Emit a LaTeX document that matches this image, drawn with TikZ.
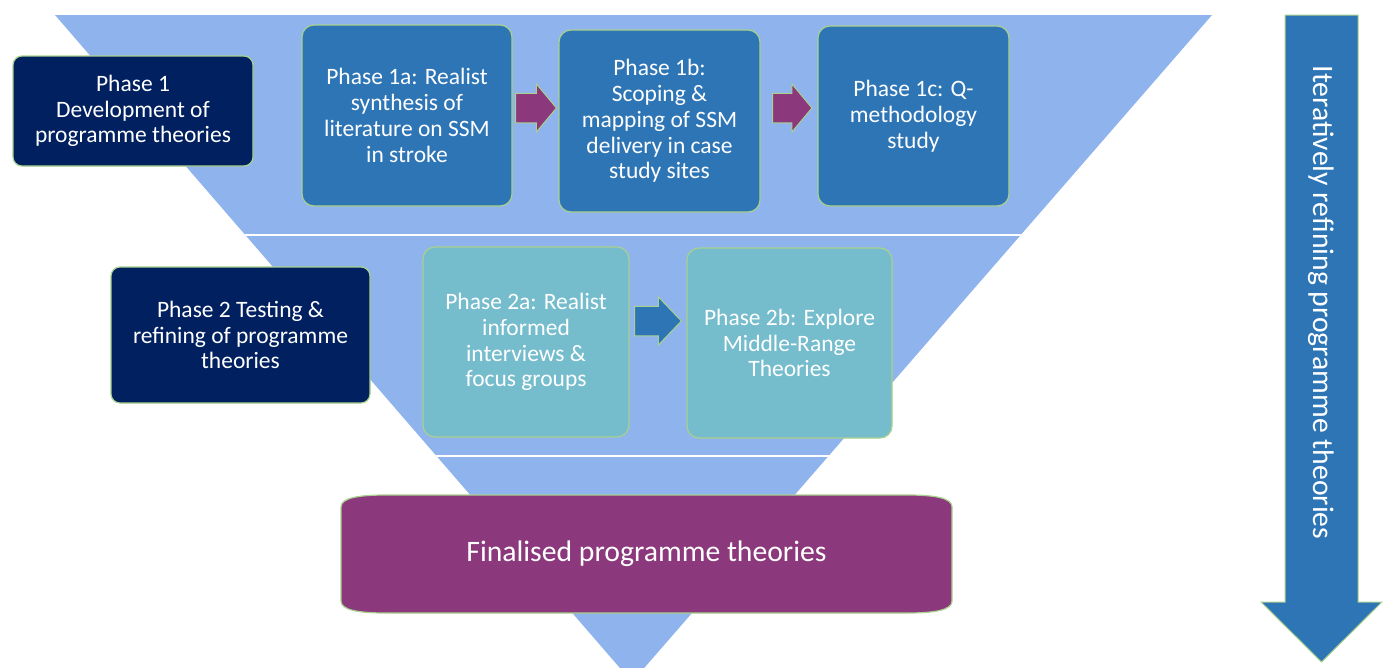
\documentclass[tikz,border=0pt]{standalone}
\usepackage{fontspec}
\setmainfont{Carlito}
\usetikzlibrary{calc}
\definecolor{funnel}{RGB}{143,179,236}
\definecolor{navy}{RGB}{0,32,96}
\definecolor{midblue}{RGB}{46,117,182}
\definecolor{tealbox}{RGB}{117,188,205}
\definecolor{purp}{RGB}{139,56,124}
\definecolor{edge}{RGB}{169,209,142}
\tikzset{
  phasebox/.style={draw=edge, line width=1.2pt, rounded corners=12pt, text=white, align=center, inner sep=0pt, font=\fontsize{23.5}{25.8}\selectfont},
  navybox/.style={phasebox, fill=navy, rounded corners=9pt},
  bluebox/.style={phasebox, fill=midblue},
  tealstyle/.style={phasebox, fill=tealbox},
  bigtext/.style={text=white, inner sep=0pt, font=\fontsize{29.7}{35}\selectfont},
  blockarr/.style={draw=edge, line width=1pt}
}
\newcommand{\barrow}[7]{%
  \filldraw[blockarr, fill=#7]
    ($(#1.east |- #3)+(#4,-14.75)$) --
    ($(#2.west |- #3)+({-#5-#6},-14.75)$) --
    ($(#2.west |- #3)+({-#5-#6},-24)$) --
    ($(#2.west |- #3)+({-#5},0)$) --
    ($(#2.west |- #3)+({-#5-#6},24)$) --
    ($(#2.west |- #3)+({-#5-#6},14.75)$) --
    ($(#1.east |- #3)+(#4,14.75)$) -- cycle;}
\begin{document}
\begin{tikzpicture}[x=1pt,y=-1pt]
\useasboundingbox (0,0) rectangle (1389,667);
% funnel
\begin{scope}
  \clip (0,0) rectangle (1389,667);
  \fill[funnel] (55,15) -- (1212,15) -- (632,682) -- cycle;
\end{scope}
\begin{scope}
  \clip (55,15) -- (1212,15) -- (632,682) -- cycle;
  \draw[white, line width=2pt] (0,235) -- (1389,235);
  \draw[white, line width=2pt] (0,456) -- (1389,456);
\end{scope}
% phase 1 row
\node[navybox, minimum width=240pt, minimum height=110pt] (p1) at (133,111)
  {Phase 1\\Development of\\programme theories};
\node[bluebox, minimum width=210pt, minimum height=181pt] (p1a) at (407,115.5)
  {Phase 1a: Realist\\synthesis of\\literature on SSM\\in stroke};
\node[bluebox, minimum width=201pt, minimum height=182pt] (p1b) at (659.5,121)
  {Phase 1b:\\Scoping \&\\mapping of SSM\\delivery in case\\study sites};
\node[bluebox, minimum width=191pt, minimum height=180pt] (p1c) at (913.5,116)
  {Phase 1c: Q-\\methodology\\study};
% phase 2 row
\node[navybox, minimum width=259pt, minimum height=136pt] (p2) at (240.5,335)
  {Phase 2 Testing \&\\refining of programme\\theories};
\node[tealstyle, minimum width=206pt, minimum height=190pt] (p2a) at (526,342)
  {Phase 2a: Realist\\informed\\interviews \&\\focus groups};
\node[tealstyle, minimum width=205pt, minimum height=190pt] (p2b) at (789.5,343)
  {Phase 2b: Explore\\Middle-Range\\Theories};
% arrows between boxes
\coordinate (yrow1) at (0,108);
\coordinate (yrow2) at (0,321);
\barrow{p1a}{p1b}{yrow1}{3}{2}{20}{purp}
\barrow{p1b}{p1c}{yrow1}{12}{5.5}{20}{purp}
\barrow{p2a}{p2b}{yrow2}{5}{5}{23}{midblue}
% final box
\filldraw[draw=edge, line width=1.2pt, fill=purp]
  (386,495) -- (907,495) .. controls (935,495) and (952,498) .. (952,507)
  -- (952,601) .. controls (952,610) and (935,613) .. (907,613)
  -- (386,613) .. controls (358,613) and (341,610) .. (341,601)
  -- (341,507) .. controls (341,498) and (358,495) .. (386,495) -- cycle;
\node[bigtext] (final) at (646.5,554) {Finalised programme theories};
% big downward arrow
\filldraw[draw=edge, line width=1pt, fill=midblue]
  (1285,15) -- (1358,15) -- (1358,602) -- (1382,602) -- (1321.5,662)
  -- (1261,602) -- (1285,602) -- cycle;
\node[bigtext, rotate=-90] (iter) at (1321.5,302.5) {Iteratively refining programme theories};
\end{tikzpicture}
\end{document}
